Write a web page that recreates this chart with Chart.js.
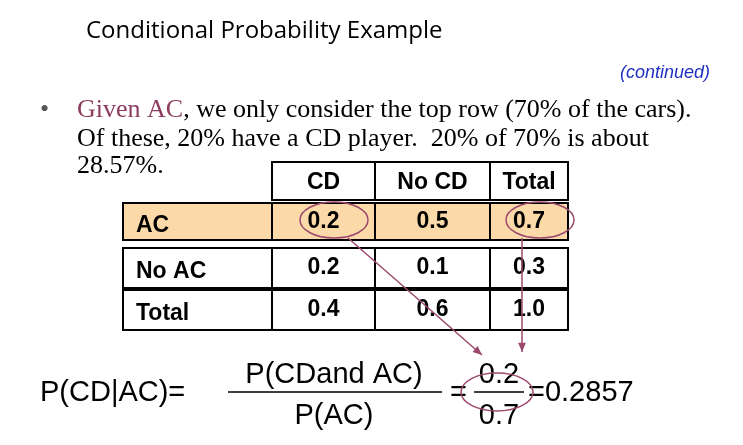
<!DOCTYPE html>
<html>
<head>
<meta charset="utf-8">
<script src="https://cdn.jsdelivr.net/npm/chart.js@4"></script>
<style>
  html, body { margin: 0; padding: 0; background: #fff; }
  #wrap { width: 743px; height: 445px; }
</style>
</head>
<body>
<div id="wrap"><canvas id="c"></canvas></div>
<script>
// slide content
const title = 'Conditional Probability Example';
const subtitle = '(continued)';
const columns = ['CD', 'No CD', 'Total'];
const rowNames = ['AC', 'No AC', 'Total'];
const cells = [
  ['0.2', '0.5', '0.7'],
  ['0.2', '0.1', '0.3'],
  ['0.4', '0.6', '1.0'],
];
const result = '0.2857';

// table grid in slide units (same as pixels, y downwards)
const colEdges = [123, 272, 375, 490, 568];
const rowEdges = [[162, 200], [203, 240], [248, 288], [290, 330]];

const slidePlugin = {
  id: 'slide',
  afterDraw(chart) {
    const { ctx, scales: { x, y } } = chart;
    const X = v => x.getPixelForValue(v);
    const Y = v => y.getPixelForValue(v);
    ctx.save();
    ctx.textBaseline = 'alphabetic';

    ctx.fillStyle = '#000';
    ctx.font = '24px "Open Sans", sans-serif';
    ctx.fillText(title, X(86), Y(38));

    ctx.fillStyle = '#1f2fc0';
    ctx.font = 'italic 18px "Liberation Sans", sans-serif';
    ctx.fillText(subtitle, X(620), Y(78));

    // bullet text
    ctx.font = '26px "Liberation Serif", serif';
    ctx.fillStyle = '#555';
    ctx.fillText('•', X(40), Y(117));
    ctx.fillStyle = '#8c3b5e';
    ctx.fillText('Given AC', X(77), Y(117));
    const w = ctx.measureText('Given AC').width;
    ctx.fillStyle = '#000';
    ctx.fillText(', we only consider the top row (70% of the cars).', X(77) + w, Y(117));
    ctx.fillText('Of these, 20% have a CD player.  20% of 70% is about', X(77), Y(146));
    ctx.fillText('28.57%.', X(77), Y(173));

    // AC row highlight
    const [acTop, acBot] = rowEdges[1];
    ctx.fillStyle = '#fcd9a8';
    ctx.fillRect(X(colEdges[0]), Y(acTop), X(colEdges[4]) - X(colEdges[0]), Y(acBot) - Y(acTop));

    // table lines
    ctx.strokeStyle = '#000';
    ctx.lineWidth = 2;
    rowEdges.forEach(([t, b], r) => {
      const x0 = r === 0 ? colEdges[1] : colEdges[0];
      ctx.strokeRect(X(x0), Y(t), X(colEdges[4]) - X(x0), Y(b) - Y(t));
      for (let c = 1; c < 4; c++) {
        if (r === 0 && c === 1) continue;
        ctx.beginPath();
        ctx.moveTo(X(colEdges[c]), Y(t));
        ctx.lineTo(X(colEdges[c]), Y(b));
        ctx.stroke();
      }
    });

    ctx.fillStyle = '#000';
    ctx.font = 'bold 23px "Liberation Sans", sans-serif';
    ctx.textAlign = 'center';
    ctx.textBaseline = 'middle';
    columns.forEach((c, i) => {
      ctx.fillText(c, X((colEdges[i + 1] + colEdges[i + 2]) / 2), Y(183));
    });
    rowNames.forEach((n, r) => {
      const [t, b] = rowEdges[r + 1];
      ctx.textAlign = 'left';
      ctx.fillText(n, X(136), Y((t + b) / 2 + 4));
      ctx.textAlign = 'center';
      cells[r].forEach((v, c) => {
        ctx.fillText(v, X((colEdges[c + 1] + colEdges[c + 2]) / 2), Y((t + b) / 2));
      });
    });
    ctx.textBaseline = 'alphabetic';

    // circles and arrows
    ctx.strokeStyle = '#9b4a6e';
    ctx.lineWidth = 1.5;
    const ellipse = (cx, cy, rx, ry) => {
      ctx.beginPath();
      ctx.ellipse(X(cx), Y(cy), rx, ry, 0, 0, Math.PI * 2);
      ctx.stroke();
    };
    const arrow = (x0, y0, x1, y1) => {
      ctx.beginPath();
      ctx.moveTo(X(x0), Y(y0));
      ctx.lineTo(X(x1), Y(y1));
      ctx.stroke();
      const a = Math.atan2(Y(y1) - Y(y0), X(x1) - X(x0));
      ctx.fillStyle = '#9b4a6e';
      ctx.beginPath();
      ctx.moveTo(X(x1), Y(y1));
      ctx.lineTo(X(x1) - 10 * Math.cos(a - 0.4), Y(y1) - 10 * Math.sin(a - 0.4));
      ctx.lineTo(X(x1) - 10 * Math.cos(a + 0.4), Y(y1) - 10 * Math.sin(a + 0.4));
      ctx.closePath();
      ctx.fill();
    };
    ellipse(334, 220, 34, 18);
    ellipse(540, 220, 34, 18);
    arrow(348, 238, 482, 355);
    arrow(522, 238, 522, 352);

    // formula
    ctx.fillStyle = '#000';
    ctx.font = '29px "Liberation Sans", sans-serif';
    ctx.textAlign = 'left';
    ctx.fillText('P(CD|AC)=', X(40), Y(401));
    ctx.textAlign = 'center';
    ctx.fillText('P(CDand AC)', X(334), Y(383));
    ctx.fillText('P(AC)', X(334), Y(424));
    ctx.fillText('0.2', X(499), Y(383));
    ctx.fillText('0.7', X(499), Y(424));
    ctx.textAlign = 'left';
    ctx.fillText('=', X(450), Y(401));
    ctx.fillText('=' + result, X(528), Y(401));
    ctx.lineWidth = 1.5;
    ctx.strokeStyle = '#000';
    ctx.beginPath();
    ctx.moveTo(X(228), Y(392)); ctx.lineTo(X(442), Y(392));
    ctx.moveTo(X(474), Y(392)); ctx.lineTo(X(524), Y(392));
    ctx.stroke();
    ctx.strokeStyle = '#9b4a6e';
    ellipse(497, 392, 36, 19);
    ctx.restore();
  }
};

new Chart(document.getElementById('c'), {
  type: 'scatter',
  data: { datasets: [{ data: [{ x: 0, y: 0 }, { x: 743, y: 445 }], pointRadius: 0 }] },
  options: {
    responsive: true,
    maintainAspectRatio: false,
    animation: false,
    layout: { padding: 0 },
    plugins: { legend: { display: false }, tooltip: { enabled: false } },
    scales: {
      x: { type: 'linear', min: 0, max: 743, display: false },
      y: { type: 'linear', min: 0, max: 445, reverse: true, display: false },
    },
  },
  plugins: [slidePlugin],
});
</script>
</body>
</html>
